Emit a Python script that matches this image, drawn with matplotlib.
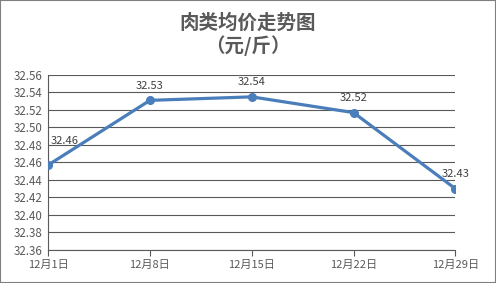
import matplotlib
matplotlib.use("Agg")
import matplotlib.pyplot as plt
from matplotlib.patches import Rectangle

plt.rcParams["font.family"] = ["Noto Sans CJK SC", "DejaVu Sans"]

dates = ["12月1日", "12月8日", "12月15日", "12月22日", "12月29日"]
prices = [32.457, 32.531, 32.535, 32.517, 32.430]
labels = ["32.46", "32.53", "32.54", "32.52", "32.43"]
y_ticks = [32.36, 32.38, 32.40, 32.42, 32.44, 32.46, 32.48, 32.50, 32.52, 32.54, 32.56]

text_color = "#595959"
line_color = "#4A7EBB"

fig = plt.figure(figsize=(4.96, 2.83), dpi=100)
fig.patches.append(Rectangle((0, 0), 1, 1, transform=fig.transFigure,
                             fill=False, edgecolor="#7f7f7f", linewidth=1.5))

ax = fig.add_axes([0.097, 0.117, 0.821, 0.618])
x = list(range(len(dates)))
ax.plot(x, prices, color=line_color, linewidth=2.3, marker="o", markersize=5.5, zorder=3)

for i, (xi, yi, lab) in enumerate(zip(x, prices, labels)):
    ax.annotate(lab, (xi, yi), xytext=(0 if i else 2, 7 if i else 14),
                textcoords="offset points", ha="center" if i else "left",
                va="bottom", fontsize=8, color="#404040")

ax.set_xlim(0, len(dates) - 1)
ax.set_ylim(y_ticks[0], y_ticks[-1])
ax.set_yticks(y_ticks)
ax.set_yticklabels([f"{v:.2f}" for v in y_ticks])
ax.set_xticks(x)
ax.set_xticklabels(dates)
ax.grid(axis="y", color="#595959", linewidth=0.8)
ax.set_axisbelow(True)

for side in ["top", "right"]:
    ax.spines[side].set_visible(False)
for side in ["left", "bottom"]:
    ax.spines[side].set_color("#595959")
    ax.spines[side].set_linewidth(0.8)

ax.tick_params(axis="y", length=0, labelsize=8.3, labelcolor=text_color, pad=4)
ax.tick_params(axis="x", length=4, width=0.8, color="#595959", labelsize=8,
               labelcolor=text_color, pad=3)

fig.text(0.5, 0.918, "肉类均价走势图", ha="center", va="center",
         fontsize=14, fontweight="bold", color=text_color)
fig.text(0.5, 0.84, "（元/斤）", ha="center", va="center",
         fontsize=14, fontweight="bold", color=text_color)

fig.savefig("out.png", dpi=100)
